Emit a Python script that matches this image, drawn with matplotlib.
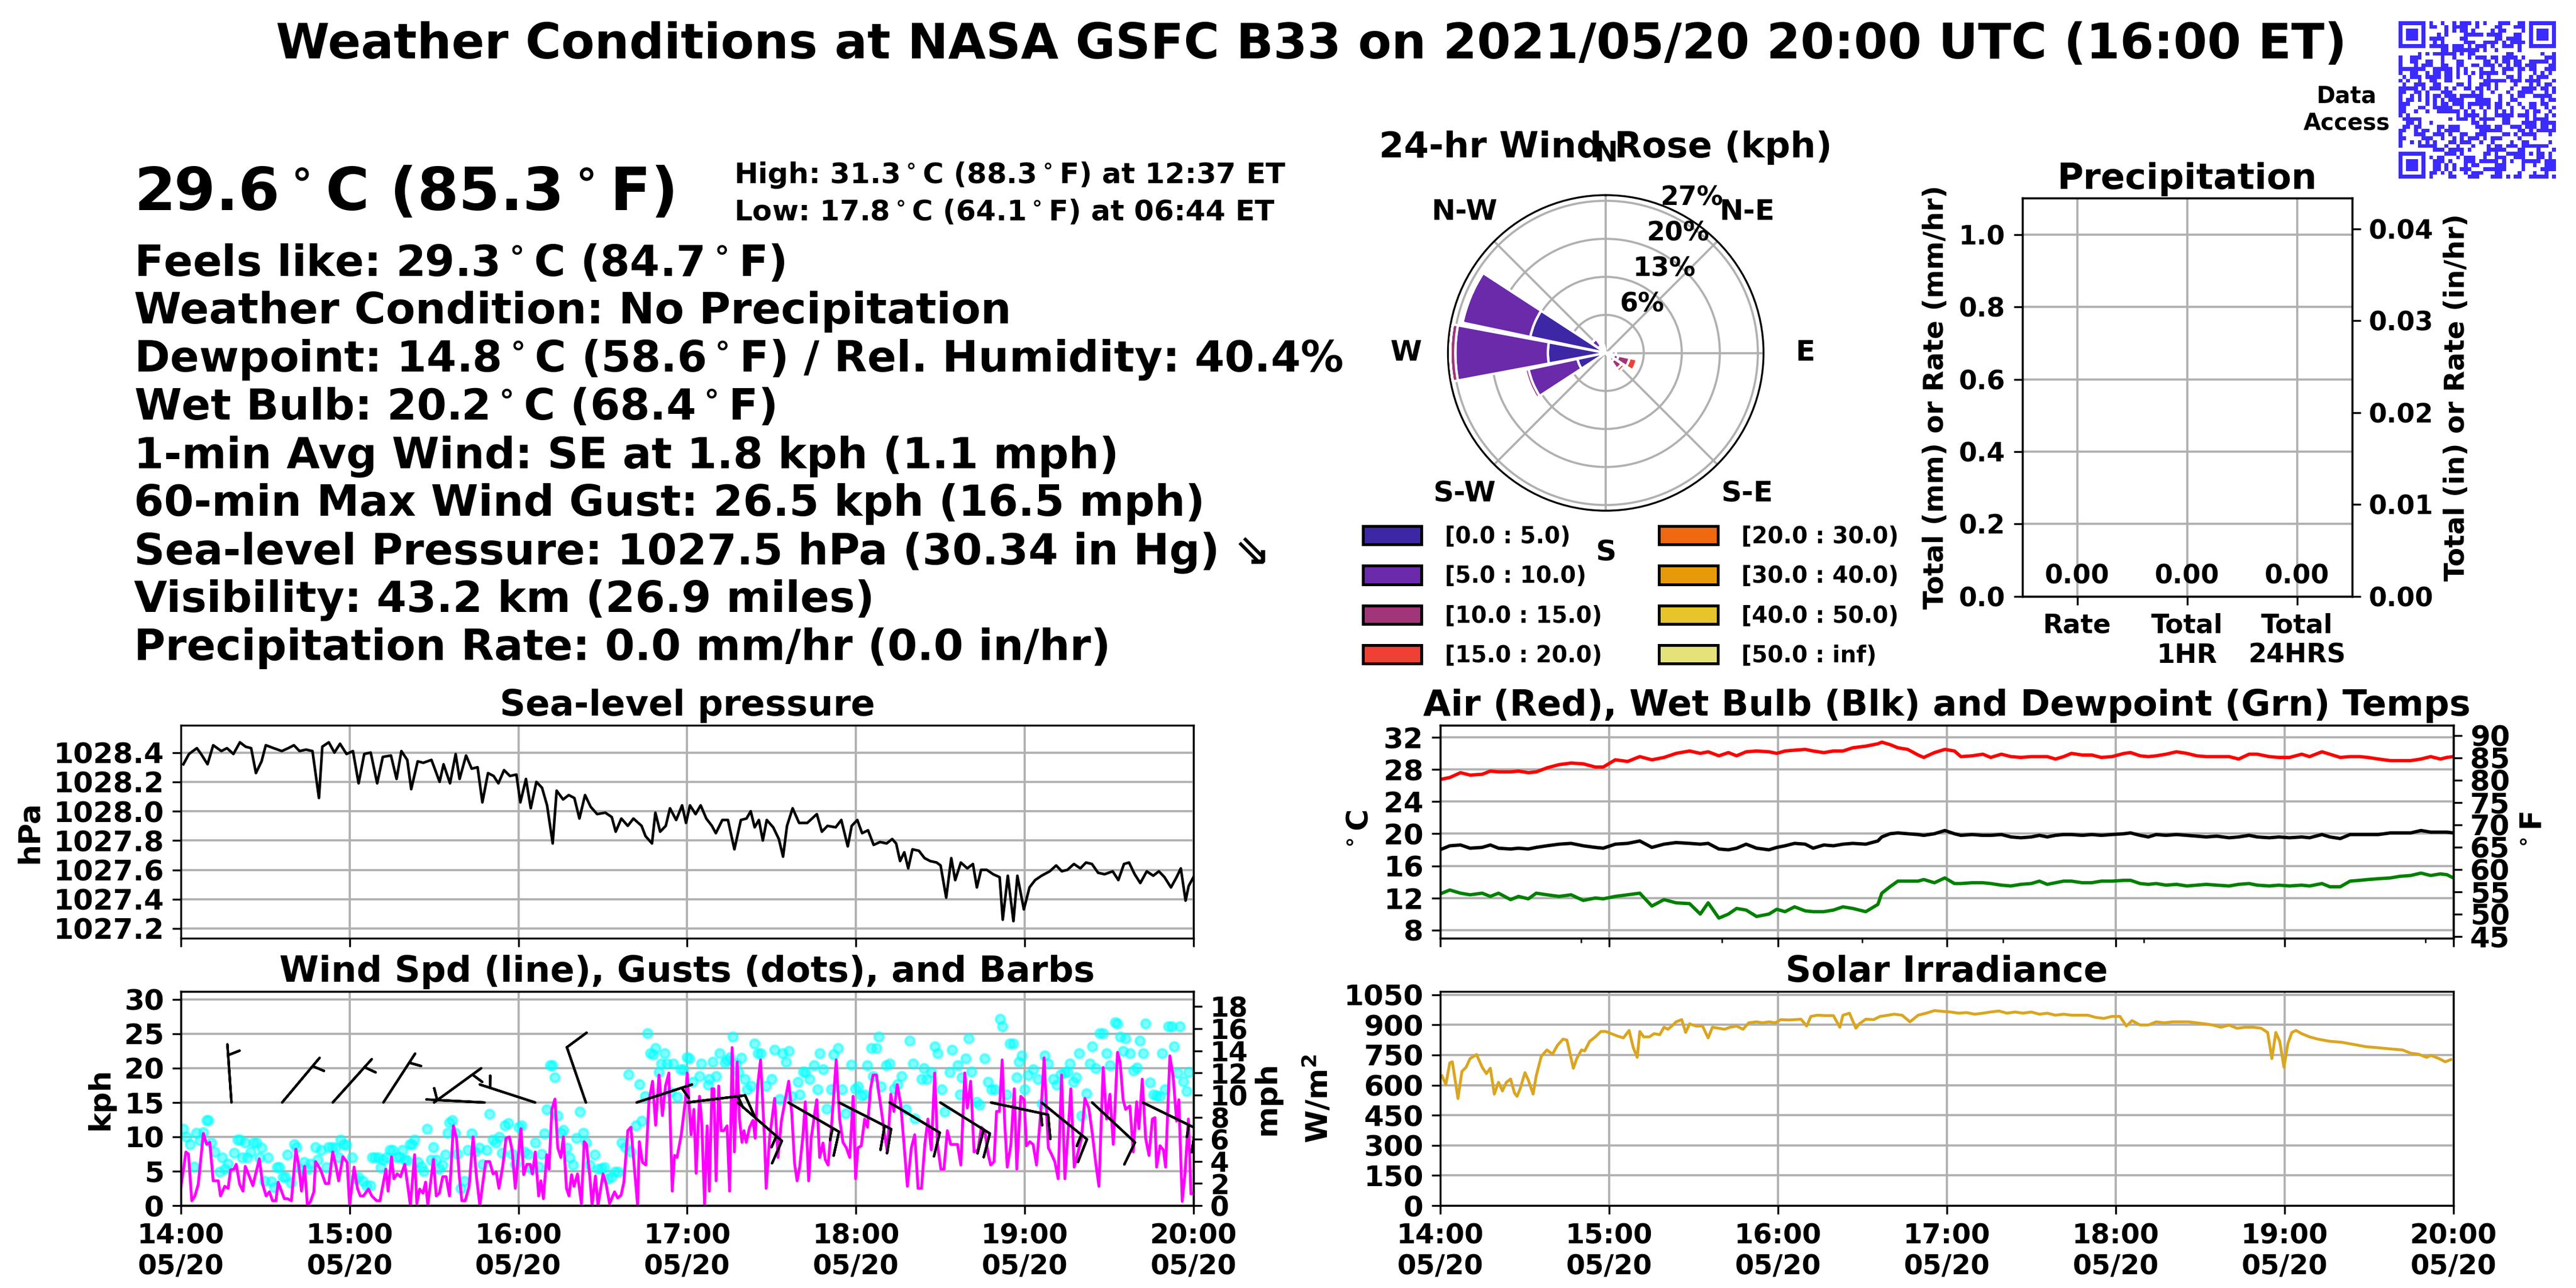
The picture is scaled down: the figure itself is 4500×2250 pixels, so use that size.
import hashlib
import numpy as np
import pandas as pd
import matplotlib
matplotlib.use('Agg')
import matplotlib.pyplot as plt
import matplotlib.dates as mdates
from matplotlib.patches import Patch
from matplotlib.colors import ListedColormap
from matplotlib.ticker import FormatStrFormatter

plt.rcParams['font.family'] = ['DejaVu Sans']
plt.rcParams['font.weight'] = 'bold'
plt.rcParams['axes.labelweight'] = 'bold'
plt.rcParams['axes.titleweight'] = 'bold'
plt.rcParams['axes.titlepad'] = 4

# ---------------- data ----------------
start = pd.Timestamp('2021-05-20 14:00')

# sea-level pressure (minutes after 14:00 UTC, hPa)
pressure_obs = [
    (0.9, 1028.32), (2.9, 1028.39), (5.7, 1028.43), (7.2, 1028.39), (9.5, 1028.32), (11.5, 1028.45),
    (14.4, 1028.41), (16.4, 1028.43), (18.7, 1028.39), (21.0, 1028.47), (23.0, 1028.44), (25.0, 1028.43),
    (26.7, 1028.26), (28.7, 1028.34), (30.2, 1028.45), (33.0, 1028.43), (35.9, 1028.41), (38.2, 1028.43),
    (40.2, 1028.45), (42.2, 1028.41), (44.5, 1028.42), (46.8, 1028.41), (49.1, 1028.09), (50.3, 1028.44),
    (52.6, 1028.47), (54.6, 1028.40), (56.6, 1028.46), (58.9, 1028.39), (61.2, 1028.41), (63.2, 1028.19),
    (65.2, 1028.39), (67.5, 1028.40), (69.8, 1028.19), (71.8, 1028.37), (74.7, 1028.38), (76.7, 1028.22),
    (78.4, 1028.41), (80.5, 1028.35), (81.9, 1028.15), (84.2, 1028.34), (86.2, 1028.33), (89.1, 1028.35),
    (92.0, 1028.20), (93.4, 1028.32), (95.7, 1028.19), (97.7, 1028.39), (99.1, 1028.22), (101.4, 1028.38),
    (103.4, 1028.29), (105.5, 1028.30), (107.2, 1028.06), (109.2, 1028.26), (111.2, 1028.24), (112.9, 1028.19),
    (114.9, 1028.28), (117.0, 1028.24), (119.3, 1028.25), (120.7, 1028.06), (122.7, 1028.22), (124.4, 1028.02),
    (126.4, 1028.20), (128.4, 1028.16), (130.2, 1028.04), (132.2, 1027.78), (133.6, 1028.14), (135.9, 1028.08),
    (137.9, 1028.11), (139.9, 1028.09), (141.7, 1027.95), (143.7, 1028.11), (145.7, 1028.03), (148.0, 1027.98),
    (150.9, 1027.99), (153.2, 1027.96), (154.6, 1027.86), (156.6, 1027.95), (158.9, 1027.90), (160.9, 1027.95),
    (163.8, 1027.90), (165.2, 1027.83), (167.5, 1027.78), (168.7, 1027.99), (170.4, 1027.86), (172.4, 1027.90),
    (173.9, 1028.02), (176.1, 1027.94), (178.2, 1028.04), (179.6, 1027.92), (181.0, 1028.04), (183.0, 1027.98),
    (184.8, 1028.04), (186.8, 1027.95), (188.8, 1027.90), (190.2, 1027.85), (192.5, 1027.94), (194.5, 1027.94),
    (196.8, 1027.74), (199.1, 1027.94), (201.1, 1027.95), (202.6, 1028.00), (204.0, 1027.89), (205.5, 1027.94),
    (206.9, 1027.80), (208.3, 1027.94), (210.6, 1027.89), (212.6, 1027.81), (214.1, 1027.69), (215.5, 1027.90),
    (217.5, 1028.02), (219.8, 1027.92), (222.7, 1027.92), (226.1, 1027.98), (227.9, 1027.86), (229.9, 1027.90),
    (232.8, 1027.89), (234.8, 1027.94), (237.1, 1027.76), (238.5, 1027.90), (240.5, 1027.94), (242.2, 1027.85),
    (244.3, 1027.87), (246.3, 1027.77), (248.6, 1027.79), (250.9, 1027.78), (252.9, 1027.81), (254.3, 1027.78),
    (255.7, 1027.66), (257.2, 1027.72), (258.6, 1027.61), (260.1, 1027.74), (262.4, 1027.73), (264.4, 1027.68),
    (266.4, 1027.66), (268.7, 1027.65), (270.1, 1027.63), (272.1, 1027.41), (273.9, 1027.68), (275.3, 1027.53),
    (277.3, 1027.65), (279.6, 1027.61), (281.6, 1027.64), (283.0, 1027.48), (284.5, 1027.60), (286.5, 1027.60),
    (288.8, 1027.57), (291.1, 1027.55), (292.2, 1027.26), (294.0, 1027.56), (296.0, 1027.25), (297.4, 1027.56),
    (299.7, 1027.33), (301.7, 1027.48), (303.7, 1027.53), (306.0, 1027.56), (308.9, 1027.59), (311.2, 1027.63),
    (313.2, 1027.59), (315.2, 1027.60), (317.5, 1027.64), (319.8, 1027.61), (321.8, 1027.65), (323.9, 1027.64),
    (326.1, 1027.58), (328.4, 1027.57), (331.3, 1027.59), (333.3, 1027.53), (335.3, 1027.64), (337.1, 1027.65),
    (339.1, 1027.57), (341.1, 1027.51), (343.4, 1027.59), (345.7, 1027.56), (347.7, 1027.59), (349.7, 1027.55),
    (352.0, 1027.48), (354.0, 1027.55), (355.5, 1027.61), (357.2, 1027.39), (358.3, 1027.49), (360.0, 1027.55),
]

# 1-min wind speed (minutes, kph)
wind_obs = [
    (0.0, 2.6), (1.8, 7.8), (2.7, 7.5), (3.9, 0.7), (5.0, 1.4), (6.2, 3.1), (8.0, 10.5), (9.2, 8.9), (10.3, 9.2),
    (11.5, 3.6), (13.3, 3.6), (14.1, 1.4), (15.6, 2.8), (16.8, 2.5), (17.7, 5.2), (18.9, 5.3), (19.7, 6.0),
    (20.9, 3.1), (22.1, 2.1), (22.9, 5.7), (24.1, 4.5), (25.6, 2.9), (27.9, 6.8), (29.1, 3.1), (30.3, 1.4),
    (31.5, 2.0), (32.6, 0.7), (33.8, 0.7), (34.6, 3.4), (36.8, 1.0), (37.9, 1.0), (39.3, 0.7), (40.9, 8.2),
    (42.0, 5.6), (42.9, 2.1), (44.0, 5.7), (45.0, 0.0), (46.1, 0.6), (47.3, 2.0), (47.9, 6.4), (49.7, 5.2),
    (51.4, 3.2), (52.6, 3.2), (54.0, 7.8), (55.2, 5.6), (56.1, 3.6), (57.6, 7.1), (59.1, 6.3), (60.0, 0.0),
    (61.6, 5.6), (62.8, 2.5), (63.8, 1.4), (64.9, 1.4), (66.7, 2.4), (67.9, 1.4), (69.6, 0.7), (70.8, 0.7),
    (72.9, 5.3), (73.7, 2.1), (74.9, 7.1), (75.7, 3.9), (76.9, 4.6), (78.1, 4.2), (79.6, 6.0), (80.8, 2.5),
    (81.6, 0.0), (83.1, 7.4), (83.9, 0.3), (84.9, 2.4), (86.1, 1.8), (87.0, 3.4), (87.8, 0.1), (89.8, 6.7),
    (90.8, 1.4), (91.9, 1.8), (93.1, 4.2), (94.3, 4.2), (95.5, 1.4), (96.9, 11.6), (98.0, 9.8), (99.0, 4.3),
    (99.9, 0.7), (101.1, 0.7), (102.5, 2.8), (103.9, 10.0), (105.1, 4.2), (106.3, 0.0), (107.2, 2.8), (108.4, 6.4),
    (109.8, 6.4), (111.0, 4.6), (112.1, 4.9), (113.1, 2.5), (114.5, 5.9), (115.6, 9.8), (116.8, 10.0), (117.8, 8.0),
    (118.9, 2.5), (120.9, 11.2), (121.9, 4.5), (123.0, 6.0), (124.2, 6.0), (125.0, 4.6), (126.0, 7.8), (127.2, 1.4),
    (128.0, 3.6), (128.9, 1.0), (130.1, 7.4), (130.9, 5.3), (131.9, 14.0), (133.0, 15.5), (134.0, 8.4), (135.1, 7.0),
    (136.0, 10.0), (137.1, 2.5), (138.0, 1.4), (138.9, 4.5), (139.8, 2.8), (141.0, 4.6), (142.4, 0.3), (143.4, 9.3),
    (144.2, 8.9), (145.4, 4.2), (146.2, 0.0), (147.4, 4.3), (148.3, 0.0), (150.1, 4.6), (151.2, 3.1), (152.4, 0.3),
    (154.2, 2.0), (155.3, 1.1), (156.5, 1.5), (157.5, 3.4), (158.9, 10.9), (160.0, 11.4), (161.2, 5.6), (162.4, 0.0),
    (163.0, 9.3), (164.1, 6.3), (165.3, 5.9), (166.4, 15.1), (167.7, 18.1), (168.8, 11.7), (170.0, 19.0),
    (171.2, 13.1), (172.3, 17.4), (173.5, 19.3), (174.7, 2.1), (175.5, 7.3), (176.4, 7.0), (177.9, 10.3),
    (179.4, 15.4), (180.0, 19.3), (181.4, 10.3), (182.4, 14.0), (183.2, 4.7), (184.4, 15.9), (185.2, 12.0),
    (186.2, 0.1), (187.1, 11.6), (187.9, 2.1), (188.8, 17.0), (189.5, 17.0), (190.3, 3.6), (191.2, 17.4),
    (192.1, 10.9), (193.0, 10.9), (194.2, 11.6), (195.1, 2.1), (196.0, 23.0), (196.8, 7.8), (197.8, 20.9),
    (198.6, 12.6), (199.5, 9.2), (200.2, 10.9), (201.0, 9.2), (202.2, 11.4), (203.4, 12.4), (204.2, 9.8),
    (205.1, 17.6), (206.1, 21.2), (207.5, 9.8), (208.1, 2.5), (209.3, 9.8), (211.1, 15.6), (212.3, 7.0),
    (213.5, 12.3), (214.6, 14.8), (216.1, 18.1), (217.2, 13.4), (218.2, 6.1), (219.1, 3.6), (220.0, 5.6),
    (221.2, 10.3), (222.0, 15.1), (223.2, 3.6), (224.1, 9.8), (225.6, 14.2), (226.1, 15.4), (227.1, 7.0),
    (228.3, 9.1), (229.1, 6.7), (230.1, 5.9), (231.2, 10.9), (233.0, 21.2), (234.2, 12.6), (235.4, 9.2),
    (236.6, 8.4), (237.8, 7.0), (239.0, 15.9), (239.9, 3.9), (240.7, 8.4), (241.9, 8.7), (243.1, 12.6),
    (244.1, 11.4), (245.2, 17.0), (246.1, 19.0), (247.3, 19.0), (248.1, 16.5), (249.0, 14.0), (250.2, 10.3),
    (251.2, 7.8), (252.4, 16.2), (253.5, 13.7), (254.7, 17.6), (255.9, 14.8), (257.1, 8.9), (258.3, 2.8),
    (259.7, 8.4), (260.9, 10.3), (262.1, 2.5), (263.3, 2.5), (264.5, 8.9), (265.6, 12.6), (266.8, 8.1),
    (268.0, 19.3), (269.0, 8.9), (270.2, 5.3), (271.3, 5.3), (272.5, 10.9), (273.7, 8.9), (274.9, 8.9),
    (276.1, 8.9), (277.3, 5.9), (278.7, 19.3), (279.6, 14.2), (280.8, 18.1), (282.0, 7.8), (283.4, 8.1),
    (284.6, 11.4), (285.8, 10.9), (287.0, 7.5), (287.9, 5.9), (289.1, 6.4), (290.0, 13.7), (291.0, 13.7),
    (292.0, 21.2), (292.9, 12.0), (293.8, 5.6), (295.1, 8.9), (296.3, 17.0), (297.2, 5.3), (298.6, 15.9),
    (299.8, 15.4), (300.6, 8.7), (301.8, 9.3), (303.0, 8.9), (304.2, 5.9), (305.0, 10.0), (306.0, 15.1),
    (306.9, 21.5), (308.4, 8.4), (309.5, 7.5), (310.7, 6.4), (311.9, 3.9), (313.1, 19.0), (314.3, 3.9),
    (315.5, 11.2), (316.4, 17.0), (317.6, 5.6), (318.8, 7.5), (320.2, 9.8), (321.4, 15.6), (322.8, 14.2),
    (324.0, 10.6), (325.2, 6.4), (326.4, 2.8), (327.9, 20.1), (329.1, 12.6), (330.3, 16.2), (331.5, 8.9),
    (333.0, 22.3), (333.9, 20.9), (335.0, 15.4), (335.9, 14.0), (337.4, 14.5), (338.6, 7.8), (339.8, 15.1),
    (340.6, 11.2), (341.8, 18.4), (343.0, 9.8), (344.2, 7.3), (345.4, 12.6), (346.3, 12.8), (346.9, 5.6),
    (348.1, 8.7), (349.3, 8.1), (350.1, 5.6), (351.6, 21.8), (352.8, 18.7), (354.0, 12.3), (354.8, 15.4),
    (356.0, 0.6), (357.0, 4.7), (358.2, 12.6), (359.1, 1.7), (360.0, 1.8),
]

# wind gusts (minutes, kph)
gust_obs = [
    (0.9, 11.2), (2.1, 10.0), (3.3, 8.9), (4.8, 5.7), (5.6, 10.6), (6.8, 9.5), (8.0, 10.7), (9.2, 12.4),
    (9.7, 12.4), (10.9, 9.2), (12.1, 7.8), (13.9, 4.9), (14.7, 7.0), (15.6, 5.3), (16.8, 6.1), (18.9, 7.7),
    (20.1, 9.6), (20.9, 9.6), (21.7, 7.0), (22.9, 9.2), (23.6, 7.0), (24.8, 7.8), (25.9, 9.2), (26.8, 9.2),
    (27.9, 7.0), (28.8, 8.4), (29.7, 3.6), (30.9, 7.0), (32.1, 3.5), (33.2, 2.7), (34.2, 5.6), (35.0, 5.6),
    (36.2, 4.2), (37.0, 4.2), (37.9, 7.4), (39.1, 3.3), (40.3, 8.9), (41.2, 8.5), (42.6, 5.3), (43.8, 6.3),
    (45.0, 5.3), (46.1, 6.1), (47.9, 8.5), (48.7, 6.7), (49.9, 8.1), (51.8, 5.6), (52.6, 8.5), (53.8, 8.5),
    (54.9, 8.4), (56.1, 7.0), (56.9, 9.6), (57.9, 8.9), (58.8, 8.8), (60.8, 7.0), (62.0, 3.9), (63.2, 4.2),
    (64.7, 3.6), (65.9, 2.9), (67.3, 2.9), (67.9, 7.0), (69.0, 7.0), (70.2, 7.0), (71.0, 5.6), (71.9, 6.7),
    (73.1, 7.0), (74.3, 8.1), (75.3, 8.1), (76.7, 7.0), (77.8, 7.1), (78.8, 8.1), (79.6, 6.7), (80.4, 6.6),
    (81.4, 8.9), (82.3, 8.9), (83.1, 9.6), (84.3, 6.3), (85.5, 5.7), (86.3, 5.0), (87.5, 11.2), (89.0, 6.7),
    (89.8, 8.5), (90.8, 6.7), (91.9, 5.3), (93.1, 5.9), (94.0, 7.4), (94.9, 10.6), (95.5, 12.1), (96.4, 12.4),
    (97.6, 10.6), (98.4, 7.5), (99.6, 2.5), (100.7, 3.6), (101.9, 8.1), (103.4, 10.5), (104.6, 7.8),
    (106.0, 8.4), (107.2, 6.0), (108.6, 8.1), (109.8, 13.3), (111.0, 9.6), (111.9, 9.2), (113.1, 10.0),
    (114.2, 7.7), (115.2, 11.7), (116.4, 12.0), (117.8, 7.5), (118.9, 6.0), (120.1, 11.4), (121.1, 11.7),
    (122.2, 7.8), (123.4, 7.5), (124.8, 5.3), (126.0, 9.2), (127.2, 5.7), (128.3, 7.5), (129.3, 10.5),
    (130.1, 14.0), (131.3, 20.4), (132.1, 20.4), (133.0, 18.7), (134.0, 13.1), (135.1, 10.6), (136.0, 11.0),
    (137.1, 8.4), (138.3, 7.0), (139.5, 5.9), (140.7, 9.8), (141.8, 13.7), (143.0, 10.6), (144.2, 9.2),
    (145.4, 5.9), (147.1, 7.4), (148.3, 5.3), (149.5, 5.4), (150.6, 5.6), (151.8, 3.9), (153.0, 4.2),
    (154.2, 4.9), (155.6, 4.9), (156.7, 9.2), (157.9, 8.5), (159.2, 19.1), (160.0, 7.8), (161.8, 11.7),
    (163.0, 17.7), (163.8, 12.3), (165.0, 15.9), (165.9, 25.1), (166.8, 22.2), (168.0, 22.0), (168.8, 22.9),
    (170.0, 19.4), (170.8, 20.7), (172.0, 22.2), (172.9, 20.7), (174.1, 16.5), (175.0, 20.7), (176.4, 15.8),
    (177.6, 19.8), (178.8, 19.8), (180.0, 21.6), (180.8, 21.4), (182.0, 18.0), (184.4, 18.8), (185.0, 20.7),
    (187.4, 17.6), (187.9, 18.4), (189.1, 20.9), (190.3, 18.8), (191.5, 22.2), (193.3, 20.8), (194.2, 21.2),
    (195.1, 21.6), (196.3, 24.6), (197.4, 20.7), (198.3, 19.4), (199.2, 21.5), (200.4, 18.4), (201.3, 16.9),
    (202.8, 17.4), (204.0, 23.6), (205.1, 22.2), (206.1, 22.2), (208.1, 17.4), (210.1, 18.4), (211.1, 22.7),
    (212.9, 15.5), (214.0, 22.2), (215.2, 20.9), (216.1, 22.5), (217.2, 15.9), (219.4, 18.0), (220.0, 16.2),
    (221.2, 19.5), (222.0, 19.4), (223.5, 18.4), (225.1, 20.4), (226.3, 16.9), (227.1, 22.2), (228.3, 19.8),
    (229.5, 14.1), (231.2, 16.9), (232.1, 22.0), (233.6, 22.9), (235.0, 16.9), (236.2, 13.4), (238.4, 20.5),
    (239.8, 17.0), (240.7, 17.3), (241.9, 16.0), (243.1, 16.2), (244.1, 20.4), (245.5, 22.9), (246.1, 18.8),
    (247.3, 22.9), (248.1, 24.6), (249.0, 17.3), (250.8, 20.4), (251.9, 20.7), (253.5, 17.0), (254.9, 17.7),
    (256.2, 18.8), (257.9, 14.0), (259.1, 24.0), (260.3, 20.7), (260.9, 12.7), (263.3, 18.4), (264.2, 20.0),
    (265.1, 18.4), (266.8, 19.4), (268.0, 23.2), (269.0, 22.2), (270.4, 16.9), (271.6, 13.7), (273.4, 19.4),
    (274.2, 22.7), (276.1, 20.4), (276.9, 16.2), (277.7, 18.7), (279.1, 21.4), (280.1, 24.3), (281.1, 19.5),
    (282.8, 15.1), (284.0, 14.7), (285.8, 21.4), (287.0, 18.0), (288.2, 16.9), (289.4, 16.9), (291.2, 27.2),
    (292.0, 26.1), (293.5, 16.2), (294.7, 23.6), (295.9, 23.6), (297.1, 18.7), (298.0, 20.9), (298.9, 21.8),
    (300.0, 16.9), (301.2, 19.0), (303.0, 19.8), (304.6, 18.4), (306.0, 14.8), (307.2, 21.8), (308.4, 20.7),
    (310.1, 18.4), (311.3, 17.6), (312.9, 19.1), (314.3, 19.4), (315.2, 19.5), (316.1, 20.7), (317.3, 18.0),
    (318.4, 18.7), (319.3, 22.2), (320.2, 13.1), (322.0, 16.3), (323.2, 20.7), (324.0, 23.2), (325.2, 20.0),
    (326.7, 25.1), (327.9, 25.1), (329.1, 22.2), (330.3, 20.4), (332.1, 26.7), (333.0, 26.5), (333.9, 24.6),
    (335.0, 22.5), (335.9, 24.3), (337.4, 22.2), (338.6, 19.7), (339.8, 20.1), (341.0, 24.0), (342.2, 22.2),
    (343.0, 26.5), (344.5, 17.9), (345.7, 16.2), (346.9, 16.0), (348.1, 15.9), (348.9, 22.2), (349.9, 16.9),
    (351.1, 26.1), (352.2, 26.1), (353.2, 23.2), (354.4, 19.3), (355.2, 26.1), (356.4, 18.1), (357.6, 16.7),
    (358.2, 19.4),
]

# wind barbs every 18 minutes: direction wind comes from (deg) and speed
barb_min = [18, 36, 54, 72, 90, 108, 126, 144, 162, 180, 198, 216, 234, 252, 270, 288, 306, 324, 342]
barb_dir = [356, 40, 42, 33, 54, 273, 288, 341, 72, 83, 131, 120, 117, 121, 122, 102, 129, 133, 116]
barb_spd = [5, 5, 5, 5, 5, 5, 5, 10, 5, 15, 15, 15, 20, 10, 20, 15, 15, 10, 15]

# temperatures (degC) at common minutes
temp_min = [
    0.6, 3.4, 7.2, 10.6, 14.9, 17.8, 20.7, 25.0, 27.8, 31.3,
    34.1, 37.9, 42.2, 46.5, 50.8, 55.1, 57.9, 62.2, 66.6, 70.9,
    75.2, 79.5, 83.8, 88.6, 92.4, 95.2, 99.0, 102.4, 105.3, 108.7,
    112.4, 116.8, 119.6, 122.5, 125.9, 129.7, 132.5, 136.3, 139.7, 143.1,
    146.6, 151.2, 155.5, 156.9, 159.8, 162.6, 166.1, 169.8, 171.8, 175.6,
    179.3, 182.7, 185.0, 189.0, 192.8, 195.6, 199.4, 202.8, 206.3, 210.0,
    212.9, 215.7, 218.6, 221.5, 224.3, 228.1, 231.5, 234.9, 238.7, 243.0,
    245.3, 248.7, 251.6, 254.4, 257.9, 261.6, 265.3, 268.8, 272.2, 275.9,
    280.3, 283.7, 287.4, 290.3, 294.6, 298.0, 301.8, 306.1, 308.9, 313.3,
    316.1, 319.8, 323.3, 326.7, 329.6, 333.3, 337.6, 341.0, 344.8, 348.5,
    351.9, 355.4, 357.7, 360.0,
]
air_c = [
    26.8, 27.0, 27.6, 27.3, 27.4, 27.8, 27.7, 27.7, 27.8, 27.6,
    27.7, 28.2, 28.6, 28.8, 28.7, 28.3, 28.3, 29.2, 29.0, 29.6,
    29.2, 29.5, 30.0, 30.3, 30.0, 30.2, 29.7, 30.1, 29.7, 30.2,
    30.3, 30.2, 30.0, 30.3, 30.4, 30.5, 30.3, 30.1, 30.3, 30.3,
    30.7, 30.9, 31.2, 31.4, 31.1, 30.7, 30.5, 29.8, 29.5, 30.1,
    30.5, 30.3, 29.6, 29.7, 29.9, 29.5, 29.9, 29.6, 29.5, 29.6,
    29.6, 29.6, 29.3, 29.6, 30.0, 29.8, 29.8, 29.5, 29.6, 30.0,
    30.1, 29.7, 29.6, 29.7, 29.9, 30.2, 30.0, 29.7, 29.6, 29.6,
    29.6, 29.3, 29.9, 29.9, 29.6, 29.5, 29.5, 29.9, 29.6, 30.2,
    29.9, 29.5, 29.6, 29.6, 29.5, 29.3, 29.1, 29.1, 29.1, 29.3,
    29.6, 29.3, 29.5, 29.6,
]
wetbulb_c = [
    18.1, 18.5, 18.6, 18.2, 18.3, 18.6, 18.2, 18.1, 18.2, 18.1,
    18.3, 18.5, 18.7, 18.8, 18.5, 18.3, 18.2, 18.7, 18.8, 19.1,
    18.3, 18.7, 18.9, 18.8, 18.7, 18.8, 18.1, 18.0, 18.2, 18.7,
    18.2, 18.0, 18.3, 18.5, 18.8, 18.7, 18.2, 18.6, 18.5, 18.7,
    18.8, 18.7, 19.1, 19.6, 20.0, 20.1, 20.0, 19.9, 19.8, 20.0,
    20.4, 20.0, 19.8, 19.9, 19.8, 19.8, 19.9, 19.6, 19.5, 19.6,
    19.8, 19.6, 19.8, 19.9, 19.9, 19.8, 19.9, 19.8, 19.9, 20.0,
    20.1, 19.8, 19.6, 19.9, 19.8, 19.9, 19.8, 19.7, 19.6, 19.7,
    19.5, 19.6, 19.8, 19.6, 19.5, 19.6, 19.5, 19.6, 19.5, 19.9,
    19.6, 19.4, 19.9, 19.9, 19.9, 19.9, 20.1, 20.1, 20.1, 20.4,
    20.2, 20.2, 20.2, 20.1,
]
dewpoint_c = [
    12.6, 13.0, 12.6, 12.4, 12.6, 12.2, 12.6, 11.8, 12.2, 11.9,
    12.6, 12.4, 12.2, 12.4, 11.7, 12.0, 11.9, 12.2, 12.4, 12.6,
    11.0, 11.8, 11.4, 11.3, 10.0, 11.4, 9.5, 10.0, 10.7, 10.5,
    9.7, 10.0, 10.6, 10.3, 10.9, 10.4, 10.3, 10.3, 10.5, 10.9,
    10.7, 10.3, 11.2, 12.6, 13.4, 14.1, 14.1, 14.1, 14.3, 13.9,
    14.5, 13.8, 13.8, 13.9, 13.9, 13.8, 13.6, 13.5, 13.7, 13.8,
    14.1, 13.7, 13.9, 14.1, 14.1, 13.9, 13.9, 14.1, 14.1, 14.2,
    14.2, 13.8, 13.7, 13.8, 13.6, 13.7, 13.5, 13.6, 13.7, 13.6,
    13.5, 13.7, 13.8, 13.6, 13.5, 13.6, 13.5, 13.6, 13.5, 13.8,
    13.4, 13.4, 14.1, 14.2, 14.3, 14.4, 14.5, 14.7, 14.8, 15.1,
    14.8, 15.0, 14.9, 14.5,
]

# solar irradiance (minutes, W/m2)
solar_obs = [
    (0.6, 646), (2.0, 603), (3.4, 711), (4.3, 716), (6.3, 533), (7.7, 668), (9.2, 689), (10.6, 732), (12.9, 752),
    (14.9, 689), (16.4, 657), (17.8, 684), (19.2, 555), (20.7, 614), (22.1, 571), (23.5, 614), (25.0, 630),
    (26.4, 560), (27.3, 544), (28.4, 582), (30.1, 662), (31.3, 625), (33.0, 555), (34.1, 646), (35.9, 743),
    (37.9, 775), (39.9, 754), (41.6, 797), (43.6, 829), (45.0, 824), (47.3, 684), (48.5, 732), (50.2, 775),
    (51.3, 770), (53.1, 818), (55.1, 840), (57.1, 867), (58.8, 867), (60.8, 856), (62.8, 845), (65.1, 835),
    (67.1, 872), (68.6, 786), (70.0, 738), (70.9, 867), (72.3, 840), (74.3, 840), (76.0, 856), (78.0, 851),
    (79.5, 888), (80.9, 878), (82.3, 894), (83.8, 915), (85.8, 926), (87.2, 862), (88.6, 905), (90.9, 894),
    (93.2, 894), (95.2, 835), (96.7, 888), (99.0, 883), (101.0, 878), (103.0, 888), (105.3, 894), (107.6, 878),
    (109.6, 910), (112.4, 915), (114.5, 910), (116.8, 915), (119.0, 910), (121.0, 926), (123.9, 924),
    (125.9, 926), (128.2, 928), (130.2, 894), (131.7, 942), (134.0, 948), (136.8, 946), (139.7, 946),
    (142.0, 888), (143.1, 948), (145.4, 958), (147.7, 883), (148.9, 905), (151.2, 928), (154.0, 926),
    (156.3, 942), (159.2, 948), (161.2, 953), (164.1, 948), (166.9, 915), (169.8, 948), (172.7, 958),
    (175.6, 971), (178.4, 967), (181.3, 964), (184.2, 958), (187.0, 961), (189.9, 953), (192.8, 958),
    (195.6, 964), (198.5, 969), (201.4, 958), (204.2, 964), (207.1, 958), (210.0, 964), (212.9, 953),
    (215.7, 958), (218.6, 948), (221.5, 953), (224.3, 948), (227.2, 948), (230.1, 948), (232.9, 937),
    (235.8, 932), (238.7, 942), (241.5, 942), (243.8, 894), (245.8, 921), (248.7, 899), (251.6, 899),
    (254.4, 915), (257.3, 910), (260.2, 915), (263.0, 915), (265.9, 915), (268.8, 910), (271.7, 905),
    (274.5, 899), (277.4, 888), (280.3, 899), (283.1, 883), (286.0, 888), (288.9, 888), (291.7, 883),
    (294.0, 862), (295.5, 732), (296.9, 862), (298.3, 818), (299.8, 689), (301.2, 807), (302.6, 862),
    (304.1, 872), (306.1, 856), (308.9, 840), (311.8, 829), (316.1, 818), (320.4, 813), (324.7, 802),
    (329.0, 791), (333.3, 786), (337.6, 780), (341.9, 775), (344.8, 759), (347.6, 754), (350.5, 738),
    (352.0, 748), (354.9, 732), (357.1, 716), (359.1, 727),
]

# 24-hr wind rose, percent per speed bin (kph)
rose_dirs = [337.5, 315.0, 292.5, 270.0, 247.5, 90.0, 112.5, 135.0]
rose_0_5 = [0.8, 1.5, 13.6, 10.2, 5.1, 1.0, 1.5, 1.2]
rose_5_10 = [0.5, 1.5, 12.2, 16.3, 8.8, 0.8, 0.8, 0.6]
rose_10_15 = [0.0, 0.0, 0.0, 0.9, 0.6, 0.0, 2.0, 1.6]
rose_15_20 = [0.0, 0.0, 0.0, 0.0, 0.0, 0.0, 1.3, 0.6]
rose_bins = ['[0.0 : 5.0)', '[5.0 : 10.0)', '[10.0 : 15.0)', '[15.0 : 20.0)',
             '[20.0 : 30.0)', '[30.0 : 40.0)', '[40.0 : 50.0)', '[50.0 : inf)']
rose_colors = ['#3d27a5', '#6a2aaa', '#a03578', '#ee4035', '#f0680f', '#e69a0a', '#e6c42a', '#e6e27a']
rose_rings = [6.7, 13.4, 20.1, 26.8]
rose_ring_labels = ['6%', '13%', '20%', '27%']

# precipitation
precip_labels = ['Rate', 'Total\n1HR', 'Total\n24HRS']
precip_vals = [0.0, 0.0, 0.0]

title = 'Weather Conditions at NASA GSFC B33 on 2021/05/20 20:00 UTC (16:00 ET)'
big_temp = r'29.6$^\circ$C (85.3$^\circ$F)'
high_txt = r'High: 31.3$^\circ$C (88.3$^\circ$F) at 12:37 ET'
low_txt = r'Low: 17.8$^\circ$C (64.1$^\circ$F) at 06:44 ET'
info_lines = [
    r'Feels like: 29.3$^\circ$C (84.7$^\circ$F)',
    'Weather Condition: No Precipitation',
    r'Dewpoint: 14.8$^\circ$C (58.6$^\circ$F) / Rel. Humidity: 40.4%',
    r'Wet Bulb: 20.2$^\circ$C (68.4$^\circ$F)',
    '1-min Avg Wind: SE at 1.8 kph (1.1 mph)',
    '60-min Max Wind Gust: 26.5 kph (16.5 mph)',
    'Sea-level Pressure: 1027.5 hPa (30.34 in Hg) \u21d8',
    'Visibility: 43.2 km (26.9 miles)',
    'Precipitation Rate: 0.0 mm/hr (0.0 in/hr)',
]


def to_time(mins):
    return start + pd.to_timedelta(np.asarray(mins, dtype=float), unit='min')


def unpack(obs):
    m, v = zip(*obs)
    return to_time(m), np.array(v)


fig = plt.figure(figsize=(15, 7.5), dpi=300)

# ---------------- header text ----------------
fig.text(0.509, 0.965, title, ha='center', va='center', fontsize=20.4)
fig.text(0.052, 0.837, big_temp, fontsize=25)
fig.text(0.285, 0.858, high_txt, fontsize=12)
fig.text(0.285, 0.829, low_txt, fontsize=12)
for i, s in enumerate(info_lines):
    fig.text(0.052, 0.786 - i * 0.03733, s, fontsize=18)

# ---------------- QR code ----------------
n = 41
raw = b''.join(hashlib.sha256(('https://data.gsfc.nasa.gov/b33/%d' % k).encode()).digest() for k in range(8))
qr = np.unpackbits(np.frombuffer(raw, dtype=np.uint8))[:n * n].reshape(n, n).astype(float)
for r0, c0 in [(0, 0), (0, n - 7), (n - 7, 0)]:
    qr[max(r0 - 1, 0):r0 + 8, max(c0 - 1, 0):c0 + 8] = 0
    qr[r0:r0 + 7, c0:c0 + 7] = 1
    qr[r0 + 1:r0 + 6, c0 + 1:c0 + 6] = 0
    qr[r0 + 2:r0 + 5, c0 + 2:c0 + 5] = 1
qr[n - 9:n - 4, n - 9:n - 4] = 1
qr[n - 8:n - 5, n - 8:n - 5] = 0
qr[n - 7, n - 7] = 1
ax_q = fig.add_axes([0.931, 0.861, 0.061, 0.123])
ax_q.imshow(qr, cmap=ListedColormap(['white', '#3b2bff']), interpolation='nearest')
ax_q.axis('off')
fig.text(0.911, 0.9147, 'Data\nAccess', ha='center', va='center', fontsize=9.5, multialignment='center')

# ---------------- wind rose ----------------
ax_r = fig.add_axes([0.562, 0.6035, 0.1227, 0.245], projection='polar')
ax_r.set_theta_zero_location('N')
ax_r.set_theta_direction(-1)
sector = np.deg2rad(22.5) * 0.94
bottoms = np.zeros(len(rose_dirs))
for k, freqs in enumerate([rose_0_5, rose_5_10, rose_10_15, rose_15_20]):
    freqs = np.array(freqs)
    ax_r.bar(np.deg2rad(rose_dirs), freqs, width=sector, bottom=bottoms,
             color=rose_colors[k], edgecolor='white', linewidth=1.0, zorder=3)
    bottoms += freqs
ax_r.set_ylim(0, 27.8)
ax_r.set_rticks(rose_rings)
ax_r.set_yticklabels([])
for r, lab in zip(rose_rings, rose_ring_labels):
    ax_r.text(np.deg2rad(21), r, lab, ha='left', va='bottom', fontsize=11, zorder=5)
ax_r.set_thetagrids(range(0, 360, 45), ['N', 'N-E', 'E', 'S-E', 'S', 'S-W', 'W', 'N-W'], fontsize=12)
ax_r.tick_params(axis='x', pad=7)
ax_r.grid(True, color='#b0b0b0', linewidth=0.9)
ax_r.set_title('24-hr Wind Rose (kph)', fontsize=15, y=1.12, pad=0)
handles = [Patch(facecolor=c, edgecolor='black', linewidth=1.2, label=l) for c, l in zip(rose_colors, rose_bins)]
fig.legend(handles=handles, ncol=2, loc='upper left', bbox_to_anchor=(0.529, 0.592), frameon=False,
           fontsize=9.5, handlelength=2.6, handleheight=0.88, handletextpad=1.03, columnspacing=2.5,
           labelspacing=0.74, borderaxespad=0, borderpad=0)

# ---------------- precipitation ----------------
ax_p = fig.add_axes([0.785, 0.537, 0.128, 0.309])
ax_p.bar(range(len(precip_vals)), precip_vals, color='tab:blue', width=0.6)
for i, v in enumerate(precip_vals):
    ax_p.annotate('%.2f' % v, (i, v), xytext=(0, 3), textcoords='offset points',
                  ha='center', va='bottom', fontsize=11)
ax_p.set_xlim(-0.5, 2.5)
ax_p.set_ylim(0, 1.1)
ax_p.set_xticks(range(len(precip_labels)))
ax_p.set_xticklabels(precip_labels, fontsize=11)
ax_p.tick_params(axis='y', labelsize=11)
ax_p.grid(True, color='#b0b0b0', linewidth=0.9)
ax_p.set_axisbelow(True)
ax_p.set_ylabel('Total (mm) or Rate (mm/hr)', fontsize=11.5)
ax_p.set_title('Precipitation', fontsize=15)
ax_p2 = ax_p.twinx()
ax_p2.set_ylim(0, 1.1 / 25.4)
ax_p2.set_yticks([0, 0.01, 0.02, 0.03, 0.04])
ax_p2.tick_params(axis='y', labelsize=11)
ax_p2.set_ylabel('Total (in) or Rate (in/hr)', fontsize=11.5)

# ---------------- time series ----------------
t_lo, t_hi = to_time([0, 360])
hours = to_time(range(0, 361, 60))


def style_time_axis(ax, show_labels):
    ax.set_xlim(t_lo, t_hi)
    ax.set_xticks(hours)
    ax.xaxis.set_major_formatter(mdates.DateFormatter('%H:%M\n%m/%d'))
    ax.tick_params(axis='y', labelsize=12)
    ax.tick_params(axis='x', labelsize=11.5)
    if not show_labels:
        ax.tick_params(axis='x', labelbottom=False)
    ax.grid(True, color='#b0b0b0', linewidth=0.9)


# pressure
ax1 = fig.add_axes([0.0702, 0.2716, 0.3931, 0.1653])
pt, pv = unpack(pressure_obs)
ax1.plot(pt, pv, color='black', linewidth=1.1)
ax1.set_ylim(1027.134, 1028.586)
ax1.set_yticks(np.arange(1027.2, 1028.41, 0.2))
ax1.yaxis.set_major_formatter(FormatStrFormatter('%.1f'))
ax1.set_ylabel('hPa', fontsize=12.5)
ax1.set_title('Sea-level pressure', fontsize=15)
style_time_axis(ax1, False)

# wind
ax2 = fig.add_axes([0.0702, 0.0640, 0.3931, 0.1662])
gt, gv = unpack(gust_obs)
wt, wv = unpack(wind_obs)
ax2.plot(gt, gv, 'o', color='cyan', alpha=0.5, markersize=3.8, zorder=2)
ax2.plot(wt, wv, color='magenta', linewidth=1.2, zorder=3)
bdir = np.deg2rad(barb_dir)
bspd = np.array(barb_spd, dtype=float)
ax2.barbs(mdates.date2num(to_time(barb_min)), np.full(len(barb_min), 15.0),
          -bspd * np.sin(bdir), -bspd * np.cos(bdir), length=7, linewidth=1.0, color='black', zorder=4)
wind_top = 31.16
ax2.set_ylim(0, wind_top)
ax2.set_yticks(range(0, 31, 5))
ax2.set_ylabel('kph', fontsize=12.5)
ax2.set_title('Wind Spd (line), Gusts (dots), and Barbs', fontsize=15)
style_time_axis(ax2, True)
ax2b = ax2.twinx()
ax2b.set_ylim(0, wind_top / 1.609)
ax2b.set_yticks(range(0, 19, 2))
ax2b.tick_params(axis='y', labelsize=11.5)
ax2b.set_ylabel('mph', fontsize=12.5, labelpad=2)

# temperatures
ax3 = fig.add_axes([0.5591, 0.2716, 0.3933, 0.1653])
tt = to_time(temp_min)
ax3.plot(tt, air_c, color='red', linewidth=1.4)
ax3.plot(tt, wetbulb_c, color='black', linewidth=1.4)
ax3.plot(tt, dewpoint_c, color='green', linewidth=1.4)
ax3.set_ylim(7.0, 33.5)
ax3.set_yticks(range(8, 33, 4))
ax3.set_ylabel(r'$^\circ$C', fontsize=12.5)
ax3.set_title('Air (Red), Wet Bulb (Blk) and Dewpoint (Grn) Temps', fontsize=15)
style_time_axis(ax3, False)
ax3.set_xticks(to_time(range(0, 361, 50)), minor=True)
ax3b = ax3.twinx()
ax3b.set_ylim(7.0 * 9 / 5 + 32, 33.5 * 9 / 5 + 32)
ax3b.set_yticks(range(45, 91, 5))
ax3b.tick_params(axis='y', labelsize=12)
ax3b.set_ylabel(r'$^\circ$F', fontsize=12.5)

# solar
ax4 = fig.add_axes([0.5591, 0.0640, 0.3933, 0.1662])
st, sv = unpack(solar_obs)
ax4.plot(st, sv, color='goldenrod', linewidth=1.2)
ax4.set_ylim(0, 1066)
ax4.set_yticks(range(0, 1051, 150))
ax4.set_ylabel(r'W/m$^2$', fontsize=12.5)
ax4.set_title('Solar Irradiance', fontsize=15)
style_time_axis(ax4, True)

fig.savefig('out.png', dpi=300)
